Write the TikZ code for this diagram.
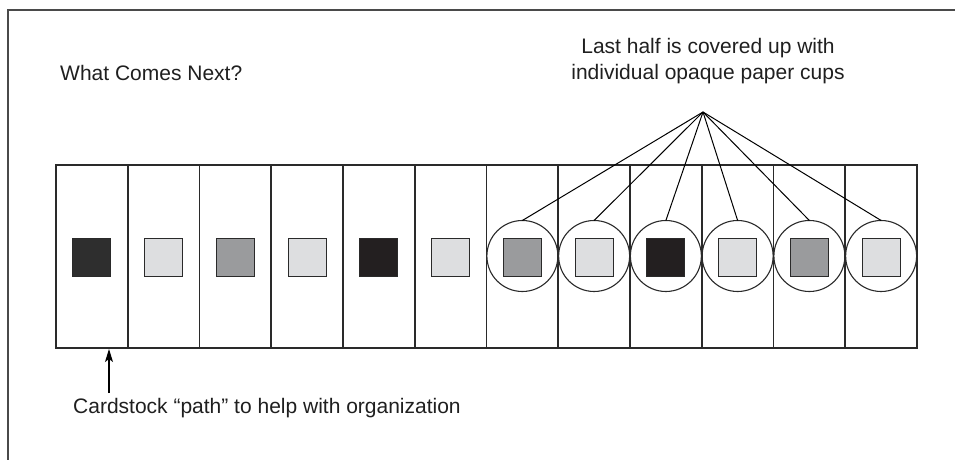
\documentclass[tikz,border=0pt]{standalone}
\usepackage{fontspec}
\setmainfont{Liberation Sans}
\usetikzlibrary{arrows.meta}
\definecolor{sqdark}{HTML}{2E2E2E}
\definecolor{sqblack}{HTML}{231F20}
\definecolor{sqgray}{HTML}{9A9B9D}
\definecolor{sqlight}{HTML}{DDDEE0}
\definecolor{linegray}{HTML}{2A2A2A}
\definecolor{framegray}{HTML}{4A4A4A}
\tikzset{
  panel/.style={draw=linegray, line width=1.8pt, minimum width=71.75pt, minimum height=183pt, inner sep=0pt, outer sep=0pt},
  sq/.style={draw=linegray, line width=1pt, minimum size=38pt, inner sep=0pt},
  cup/.style={draw=linegray, line width=1.1pt, circle, minimum size=71pt, inner sep=0pt, outer sep=0pt},
  conn/.style={draw=black, line width=1pt},
  lbl/.style={font=\fontsize{21}{25}\selectfont, text=black!88, inner sep=0pt},
  frameline/.style={draw=framegray, line width=1.6pt}
}
\begin{document}
\begin{tikzpicture}[x=1pt,y=-1pt]
\useasboundingbox (0,0) rectangle (955,460);
\coordinate (f1) at (8,460);
\coordinate (f2) at (8,10);
\coordinate (f3) at (955,10);
\draw[frameline] (f1) -- (f2) -- (f3);
% panels
\foreach \i in {1,...,12}{
  \node[panel] (p\i) at ({56+71.75*(\i-0.5)},256.5) {};
}
% squares
\foreach \i/\c in {1/sqdark,2/sqlight,3/sqgray,4/sqlight,5/sqblack,6/sqlight,7/sqgray,8/sqlight,9/sqblack,10/sqlight,11/sqgray,12/sqlight}{
  \node[sq, fill=\c] (s\i) at ({56+71.75*(\i-0.5)},257) {};
}
% cups
\foreach \i in {7,...,12}{
  \node[cup] (c\i) at ({56+71.75*(\i-0.5)},256) {};
}
% labels
\node[lbl, anchor=base west] (title) at (60,80) {What Comes Next?};
\node[lbl, anchor=base, align=center] (cuplbl) at (708,79) {Last half is covered up with\\individual opaque paper cups};
\coordinate (hub) at (703,112);
\foreach \i in {7,...,12}{
  \draw[conn] (hub) -- (c\i.north);
}
\node[lbl, anchor=base west] (cardlbl) at (73,413) {Cardstock “path” to help with organization};
\coordinate (arrtail) at (109,393);
\coordinate (arrtip) at (109,349);
\draw[conn, line width=1.2pt, -{Stealth[length=13pt,width=8pt,inset=3pt]}] (arrtail) -- (arrtip);
\end{tikzpicture}
\end{document}
